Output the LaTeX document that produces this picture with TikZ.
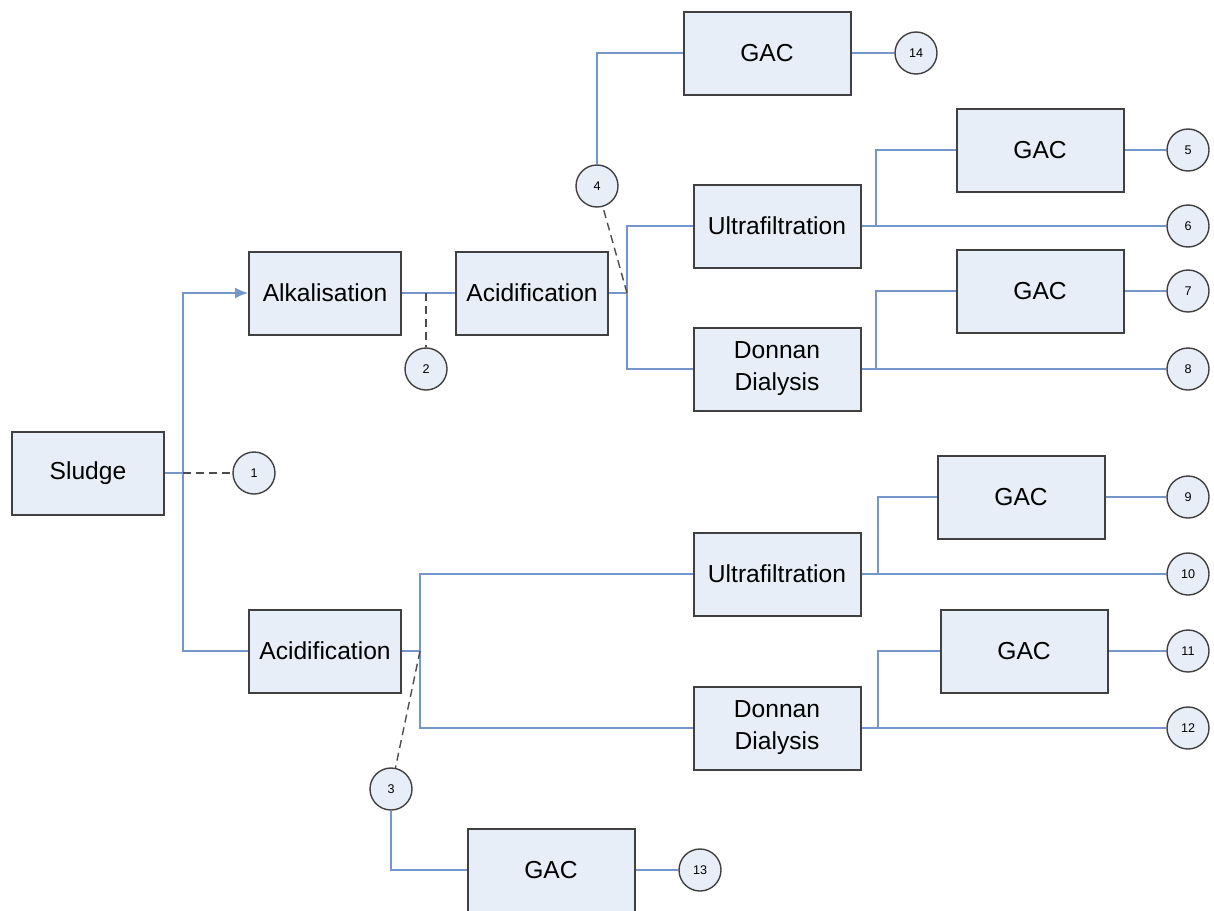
\documentclass[tikz,border=0pt]{standalone}
\usepackage{fontspec}
\setmainfont{Liberation Sans}
\usetikzlibrary{arrows.meta,positioning}
\definecolor{boxfill}{HTML}{E8EEF8}
\definecolor{pipeblue}{HTML}{7496CB}
\definecolor{boxline}{HTML}{404040}
\tikzset{%
	process/.style = {draw=boxline, line width=1pt, fill=boxfill, rectangle, minimum width=76pt, minimum height=41.5pt, text centered, align=center, font=\fontsize{12.3}{16}\selectfont},
	gac/.style     = {process, minimum width=83.5pt},
	sample/.style  = {draw=boxline, line width=0.7pt, fill=boxfill, circle, minimum size=21pt, inner sep=0pt, font=\fontsize{6.3}{7}\selectfont},
	pipe/.style    = {draw=pipeblue, line width=0.8pt},
	arrow/.style   = {pipe, -{Latex[length=6.5pt,width=5.5pt]}},
	tap/.style     = {line width=0.7pt, draw=black!70, dash pattern=on 4pt off 2.5pt},
}

\begin{document}
\begin{tikzpicture}[x=0.5pt,y=-0.5pt]
		\useasboundingbox (0,0) rectangle (1214,910);
		
		% process units
		\node[process] (sludge) at (88,473) {Sludge};
		\node[process] (alk)    at (325,293) {Alkalisation};
		\node[process] (acidA)  at (532,293) {Acidification};
		\node[process] (acidB)  at (325,651) {Acidification};
		\node[gac]     (ufA)    at (777,226) {Ultrafiltration};
		\node[gac]     (ddA)    at (777,369) {Donnan\\Dialysis};
		\node[gac]     (ufB)    at (777,574) {Ultrafiltration};
		\node[gac]     (ddB)    at (777,728) {Donnan\\Dialysis};
		\node[gac]     (gacD)   at (767,53)  {GAC};
		\node[gac]     (gacA)   at (1040,150) {GAC};
		\node[gac]     (gacB)   at (1040,291) {GAC};
		\node[gac]     (gacC)   at (1021,497) {GAC};
		\node[gac]     (gacE)   at (1024,651) {GAC};
		\node[gac]     (gacF)   at (551,870) {GAC};
		
		% sampling points
		\node[sample] (s1)  at (254,473)  {1};
		\node[sample] (s2)  at (426,369)  {2};
		\node[sample] (s3)  at (391,789)  {3};
		\node[sample] (s4)  at (597,186)  {4};
		\node[sample] (s5)  at (1188,150) {5};
		\node[sample] (s6)  at (1188,226) {6};
		\node[sample] (s7)  at (1188,291) {7};
		\node[sample] (s8)  at (1188,369) {8};
		\node[sample] (s9)  at (1188,497) {9};
		\node[sample] (s10) at (1188,574) {10};
		\node[sample] (s11) at (1188,651) {11};
		\node[sample] (s12) at (1188,728) {12};
		\node[sample] (s13) at (700,870)  {13};
		\node[sample] (s14) at (916,53)   {14};
		
		% junctions
		\coordinate (j1) at (183,473);
		\coordinate (j2) at (426,293);
		\coordinate (j3) at (420,651);
		\coordinate (j4) at (627,293);
		\coordinate (j5) at (876,226);
		\coordinate (j6) at (876,369);
		\coordinate (j7) at (878,574);
		\coordinate (j8) at (878,728);
		
		% sludge split
		\draw[arrow] (sludge.east) -- (j1) |- (alk.west);
		\draw[pipe] (j1) |- (acidB.west);
		\draw[tap] (j1) -- (s1);
		
		% upper line
		\draw[pipe] (alk.east) -- (acidA.west);
		\draw[tap] (j2) -- (s2.north);
		\draw[pipe] (acidA.east) -- (j4) |- (ufA.west);
		\draw[pipe] (j4) |- (ddA.west);
		\draw[tap] (j4) -- (s4);
		\draw[pipe] (s4.north) |- (gacD.west);
		\draw[pipe] (gacD.east) -- (s14);
		\draw[pipe] (ufA.east) -- (s6);
		\draw[pipe] (j5) |- (gacA.west);
		\draw[pipe] (gacA.east) -- (s5);
		\draw[pipe] (ddA.east) -- (s8);
		\draw[pipe] (j6) |- (gacB.west);
		\draw[pipe] (gacB.east) -- (s7);
		
		% lower line
		\draw[pipe] (acidB.east) -- (j3) |- (ufB.west);
		\draw[pipe] (j3) |- (ddB.west);
		\draw[tap] (j3) -- (s3);
		\draw[pipe] (s3.south) |- (gacF.west);
		\draw[pipe] (gacF.east) -- (s13);
		\draw[pipe] (ufB.east) -- (s10);
		\draw[pipe] (j7) |- (gacC.west);
		\draw[pipe] (gacC.east) -- (s9);
		\draw[pipe] (ddB.east) -- (s12);
		\draw[pipe] (j8) |- (gacE.west);
		\draw[pipe] (gacE.east) -- (s11);
		
\end{tikzpicture}
\end{document}
